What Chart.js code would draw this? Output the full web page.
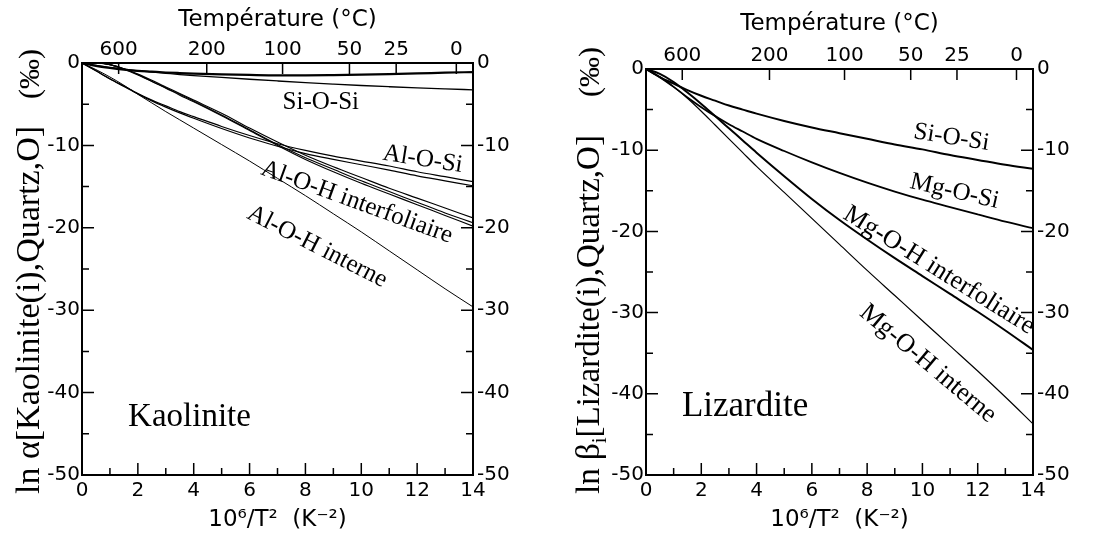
<!DOCTYPE html>
<html>
<head>
<meta charset="utf-8">
<script src="https://cdn.jsdelivr.net/npm/chart.js@4.4.0/dist/chart.umd.min.js"></script>
<style>
html, body { margin: 0; padding: 0; background: #fff; }
#wrap { position: relative; width: 1101px; height: 537px; }
.panel { position: absolute; top: 0; height: 537px; }
</style>
</head>
<body>
<div id="wrap">
  <div class="panel" style="left:0;width:550px"><canvas id="kaoChart" width="550" height="537"></canvas></div>
  <div class="panel" style="left:550px;width:551px"><canvas id="lizChart" width="551" height="537"></canvas></div>
</div>
<script>
// axes
const xGrid = [0, 0.5, 1, 1.5, 2, 2.5, 3, 3.5, 4, 5, 6, 7, 8, 9, 10, 11, 12, 13, 14];
const xTickVals = [0, 2, 4, 6, 8, 10, 12, 14];
const yTickVals = [0, -10, -20, -30, -40, -50];
const tempTicks = [600, 200, 100, 50, 25, 0];

// Kaolinite (ln alpha, permil)
const kaoSiOSi1 = [0, -0.35, -0.6, -0.8, -0.95, -1.05, -1.15, -1.22, -1.28, -1.38, -1.45, -1.5, -1.5, -1.47, -1.42, -1.35, -1.27, -1.18, -1.1];
const kaoSiOSi2 = [0, -0.3, -0.55, -0.75, -0.95, -1.1, -1.25, -1.4, -1.52, -1.75, -1.97, -2.18, -2.38, -2.56, -2.73, -2.88, -3.02, -3.14, -3.25];
const kaoAlOSi1 = [0, -0.95, -1.9, -2.8, -3.7, -4.5, -5.2, -5.9, -6.5, -7.7, -8.8, -9.8, -10.6, -11.3, -11.9, -12.5, -13.2, -13.8, -14.4];
const kaoAlOSi2 = [0, -0.95, -1.95, -2.85, -3.75, -4.6, -5.35, -6.05, -6.7, -7.95, -9.1, -10.1, -11.0, -11.7, -12.35, -13.0, -13.7, -14.3, -14.9];
const kaoInterf1 = [0, 0.05, -0.2, -0.7, -1.35, -2.1, -2.9, -3.7, -4.5, -6.1, -7.9, -9.6, -11.2, -12.6, -13.9, -15.2, -16.4, -17.6, -18.8];
const kaoInterf2 = [0, 0.05, -0.2, -0.7, -1.4, -2.2, -3.0, -3.8, -4.6, -6.3, -8.1, -9.9, -11.5, -12.9, -14.3, -15.6, -16.9, -18.2, -19.4];
const kaoInterf3 = [0, 0.05, -0.2, -0.75, -1.45, -2.25, -3.05, -3.9, -4.7, -6.4, -8.2, -10.0, -11.7, -13.2, -14.6, -15.9, -17.2, -18.5, -19.8];
const kaoInterne = [0, -0.8, -1.7, -2.7, -3.8, -4.85, -5.9, -6.9, -7.9, -9.9, -11.9, -14.0, -16.1, -18.3, -20.5, -22.8, -25.1, -27.4, -29.6];

// Lizardite (ln beta, permil)
const lizSiOSi = [0, -1.0, -1.8, -2.6, -3.3, -3.9, -4.5, -5.0, -5.5, -6.4, -7.2, -7.9, -8.6, -9.3, -9.9, -10.6, -11.2, -11.8, -12.3];
const lizMgOSi = [0, -1.0, -2.2, -3.5, -4.7, -5.8, -6.8, -7.7, -8.6, -10.1, -11.5, -12.8, -14.0, -15.1, -16.1, -17.0, -17.9, -18.8, -19.6];
const lizInterf = [0, -0.6, -1.6, -2.9, -4.3, -5.8, -7.3, -8.8, -10.3, -13.2, -16.0, -18.6, -21.0, -23.3, -25.5, -27.7, -29.9, -32.2, -34.6];
const lizInterne = [0, -1.0, -2.2, -3.6, -5.2, -6.9, -8.6, -10.3, -12.0, -15.2, -18.4, -21.6, -24.8, -27.9, -31.0, -34.1, -37.2, -40.4, -43.7];

const TICK_FONT = { family: 'DejaVu Sans', size: 20 };
const TITLE_FONT = { family: 'DejaVu Sans', size: 23 };
const SERIF = 'Liberation Serif';

// 10^6/T^2 position of a temperature in degC
function tempToX(t) {
    const T = t + 273.15;
    return 1e6 / (T * T);
}

function toPoints(ys) {
    return xGrid.map((x, i) => ({ x: x, y: ys[i] }));
}

function line(ys, w) {
    return {
        data: toPoints(ys),
        borderColor: '#000',
        borderWidth: w,
        pointRadius: 0,
        fill: false,
        cubicInterpolationMode: 'monotone'
    };
}

// inward ticks, frame, curve labels and y title
const decorPlugin = {
    id: 'decor',
    afterDraw(chart, args, opts) {
        const ctx = chart.ctx;
        const a = chart.chartArea;
        const xs = chart.scales.x, ys = chart.scales.y, xt = chart.scales.xTop;
        ctx.save();
        ctx.strokeStyle = '#000';
        ctx.lineWidth = 1.5;
        ctx.beginPath();
        for (let v = 0; v <= 14; v++) {
            const px = xs.getPixelForValue(v);
            const len = v % 2 === 0 ? 12 : 7;
            ctx.moveTo(px, a.bottom);
            ctx.lineTo(px, a.bottom - len);
        }
        for (let v = 0; v >= -50; v -= 5) {
            const py = ys.getPixelForValue(v);
            const len = v % 10 === 0 ? 12 : 7;
            ctx.moveTo(a.left, py);
            ctx.lineTo(a.left + len, py);
            ctx.moveTo(a.right, py);
            ctx.lineTo(a.right - len, py);
        }
        tempTicks.forEach(t => {
            const px = xt.getPixelForValue(tempToX(t));
            ctx.moveTo(px, a.top);
            ctx.lineTo(px, a.top + 11);
        });
        ctx.stroke();

        ctx.lineWidth = 2;
        ctx.strokeRect(a.left, a.top, a.right - a.left, a.bottom - a.top);

        ctx.fillStyle = '#000';
        opts.labels.forEach(l => {
            ctx.save();
            ctx.translate(xs.getPixelForValue(l.x), ys.getPixelForValue(l.y));
            ctx.rotate(l.angle * Math.PI / 180);
            ctx.font = l.size + 'px "' + SERIF + '"';
            ctx.textAlign = l.align || 'center';
            ctx.textBaseline = l.baseline || 'middle';
            ctx.fillText(l.text, 0, 0);
            ctx.restore();
        });

        // rotated y title
        ctx.save();
        ctx.translate(opts.yTitleX, opts.yTitleY);
        ctx.rotate(-Math.PI / 2);
        ctx.textAlign = 'left';
        ctx.textBaseline = 'alphabetic';
        let off = 0;
        opts.yTitle.forEach(p => {
            ctx.font = p.size + 'px "' + SERIF + '"';
            ctx.fillText(p.text, off, p.dy || 0);
            off += ctx.measureText(p.text).width;
        });
        ctx.font = '30px "' + SERIF + '"';
        ctx.textAlign = 'center';
        ctx.fillText('(‰)', opts.yTitleY - opts.permilY, 0);
        ctx.restore();
        ctx.restore();
    }
};

function makeOptions(box, decor) {
    return {
        responsive: false,
        animation: false,
        layout: { padding: 0 },
        plugins: { legend: { display: false }, tooltip: { enabled: false }, decor: decor },
        scales: {
            x: {
                type: 'linear', position: 'bottom', min: 0, max: 14,
                afterBuildTicks: s => { s.ticks = xTickVals.map(v => ({ value: v })); },
                ticks: { font: TICK_FONT, color: '#000', padding: 4, maxRotation: 0, autoSkip: false },
                grid: { display: false, drawTicks: false },
                border: { display: false },
                title: { display: true, text: '10⁶/T²  (K⁻²)', font: TITLE_FONT, color: '#000', padding: { top: 0, bottom: 3 } },
                afterFit: s => { s.height = box.bottom; }
            },
            xTop: {
                type: 'linear', position: 'top', min: 0, max: 14,
                afterBuildTicks: s => { s.ticks = tempTicks.map(t => ({ value: tempToX(t) })); },
                ticks: { font: TICK_FONT, color: '#000', padding: 1, maxRotation: 0, autoSkip: false,
                         callback: (v, i) => String(tempTicks[i]) },
                grid: { display: false, drawTicks: false },
                border: { display: false },
                title: { display: true, text: 'Température (°C)', font: TITLE_FONT, color: '#000', padding: { top: box.titleTop, bottom: 0 } },
                afterFit: s => { s.height = box.top; }
            },
            y: {
                type: 'linear', position: 'left', min: -50, max: 0,
                afterBuildTicks: s => { s.ticks = yTickVals.map(v => ({ value: v })); },
                ticks: { font: TICK_FONT, color: '#000', padding: 2 },
                grid: { display: false, drawTicks: false },
                border: { display: false },
                afterFit: s => { s.width = box.left; }
            },
            yRight: {
                type: 'linear', position: 'right', min: -50, max: 0,
                afterBuildTicks: s => { s.ticks = yTickVals.map(v => ({ value: v })); },
                ticks: { font: TICK_FONT, color: '#000', padding: 4 },
                grid: { display: false, drawTicks: false },
                border: { display: false },
                afterFit: s => { s.width = box.right; }
            }
        }
    };
}

new Chart(document.getElementById('kaoChart'), {
    type: 'line',
    data: {
        datasets: [
            line(kaoSiOSi1, 2.2), line(kaoSiOSi2, 1.3),
            line(kaoAlOSi1, 1.2), line(kaoAlOSi2, 1.2),
            line(kaoInterf1, 1.1), line(kaoInterf2, 1.1), line(kaoInterf3, 1.1),
            line(kaoInterne, 1)
        ]
    },
    options: makeOptions({ left: 82, right: 77, top: 63, bottom: 62, titleTop: 6 }, {
        labels: [
            { text: 'Si-O-Si', x: 8.55, y: -4.75, angle: 0, size: 25 },
            { text: 'Al-O-Si', x: 12.2, y: -11.7, angle: 9, size: 25 },
            { text: 'Al-O-H interfoliaire', x: 9.84, y: -16.9, angle: 20, size: 25 },
            { text: 'Al-O-H interne', x: 8.42, y: -22.3, angle: 27, size: 25 },
            { text: 'Kaolinite', x: 1.65, y: -44.0, angle: 0, size: 33, align: 'left', baseline: 'alphabetic' }
        ],
        yTitle: [{ text: 'ln α[Kaolinite(i),Quartz,O]', size: 34 }],
        yTitleX: 39, yTitleY: 494, permilY: 74
    }),
    plugins: [decorPlugin]
});

new Chart(document.getElementById('lizChart'), {
    type: 'line',
    data: {
        datasets: [
            line(lizSiOSi, 2), line(lizMgOSi, 1.8),
            line(lizInterf, 2), line(lizInterne, 1.2)
        ]
    },
    options: makeOptions({ left: 96, right: 68, top: 69, bottom: 62, titleTop: 10 }, {
        labels: [
            { text: 'Si-O-Si', x: 11.05, y: -8.45, angle: 9, size: 25 },
            { text: 'Mg-O-Si', x: 11.16, y: -15.1, angle: 13, size: 25 },
            { text: 'Mg-O-H interfoliaire', x: 10.6, y: -24.8, angle: 32, size: 26 },
            { text: 'Mg-O-H interne', x: 10.2, y: -36.3, angle: 40, size: 26 },
            { text: 'Lizardite', x: 1.3, y: -42.7, angle: 0, size: 35, align: 'left', baseline: 'alphabetic' }
        ],
        yTitle: [
            { text: 'ln β', size: 33 },
            { text: 'i', size: 21, dy: 7 },
            { text: '[Lizardite(i),Quartz,O]', size: 33 }
        ],
        yTitleX: 49, yTitleY: 494, permilY: 72
    }),
    plugins: [decorPlugin]
});
</script>
</body>
</html>
